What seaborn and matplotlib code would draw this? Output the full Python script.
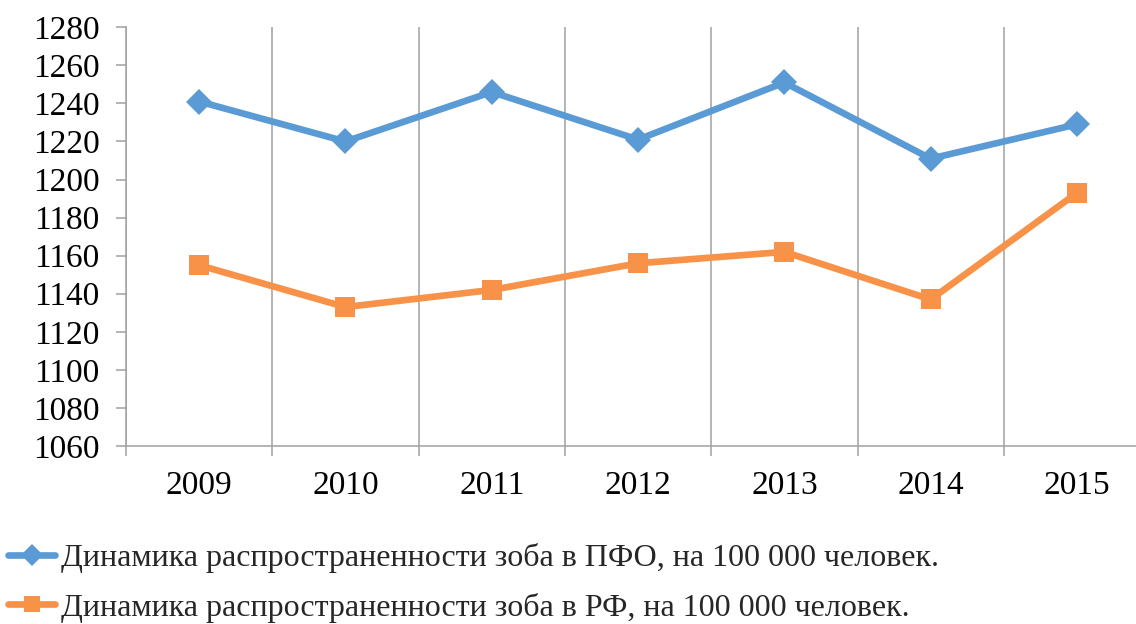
import matplotlib
matplotlib.use("Agg")
import matplotlib.pyplot as plt
from matplotlib.lines import Line2D
import numpy as np
import pandas as pd
import seaborn as sns

# Goitre prevalence per 100 000 population
years = ["2009", "2010", "2011", "2012", "2013", "2014", "2015"]
pfo_values = [1241, 1220, 1246, 1221, 1251, 1211, 1229]
rf_values = [1155, 1133, 1142, 1156, 1162, 1137, 1193]
series_names = [
    "Динамика распространенности зоба в ПФО, на 100 000 человек.",
    "Динамика распространенности зоба в РФ, на 100 000 человек.",
]
y_ticks = list(range(1060, 1281, 20))

blue = "#5B9BD5"
orange = "#F79248"
grid_gray = "#A0A0A0"
tick_font = 24
legend_font = 23

sns.set_theme(style="white")
plt.rcParams["font.family"] = ["Liberation Serif", "DejaVu Serif"]

df = pd.DataFrame({
    "pos": list(range(len(years))) * 2,
    "value": pfo_values + rf_values,
    "series": [series_names[0]] * len(years) + [series_names[1]] * len(years),
})

fig = plt.figure(figsize=(11.36, 6.24), dpi=100)
ax = fig.add_axes([126 / 1136, 178 / 624, 1 - 126 / 1136, 418.7 / 624])

sns.lineplot(
    data=df, x="pos", y="value", hue="series", style="series",
    palette={series_names[0]: blue, series_names[1]: orange},
    markers={series_names[0]: "D", series_names[1]: "s"},
    dashes=False, linewidth=4.8, markeredgewidth=0, legend=False, ax=ax,
)
for line, ms in zip(ax.get_lines(), [13, 15]):
    line.set_markersize(ms)
    line.set_solid_joinstyle("round")

ax.set_yticks(y_ticks)
ax.set_xticks(range(len(years)))
ax.set_xticklabels(years)
ax.set_xticks(np.arange(-0.5, len(years), 1.0), minor=True)
ax.set_ylim(1060, 1280)
# the category band continues slightly past the right edge of the canvas
ax.set_xlim(-0.5, -0.5 + (1136 - 126) / 146.3)
ax.set_xlabel("")
ax.set_ylabel("")

ax.grid(False)
ax.grid(True, which="minor", axis="x", color=grid_gray, linewidth=1.1)
ax.tick_params(axis="x", which="major", length=0, pad=18, labelsize=tick_font, colors="black")
ax.tick_params(axis="x", which="minor", direction="out", length=7, width=1.1,
               color=grid_gray, bottom=True)
ax.tick_params(axis="y", direction="out", length=7, width=1.1, color=grid_gray,
               pad=12, labelsize=tick_font, left=True, labelcolor="black")

for side in ["top", "right"]:
    ax.spines[side].set_visible(False)
for side in ["left", "bottom"]:
    ax.spines[side].set_color(grid_gray)
    ax.spines[side].set_linewidth(1.1)

handles = [
    Line2D([], [], color=blue, lw=4.8, marker="D", markersize=11, markeredgewidth=0),
    Line2D([], [], color=orange, lw=4.8, marker="s", markersize=12, markeredgewidth=0),
]
fig.legend(
    handles, series_names, loc="upper left", bbox_to_anchor=(2 / 1136, 1 - 537 / 624),
    frameon=False, fontsize=legend_font, handlelength=1.45, handletextpad=0.2,
    labelspacing=0.6, borderaxespad=0, borderpad=0.2,
)

fig.savefig("out.png", dpi=100, facecolor="white")
